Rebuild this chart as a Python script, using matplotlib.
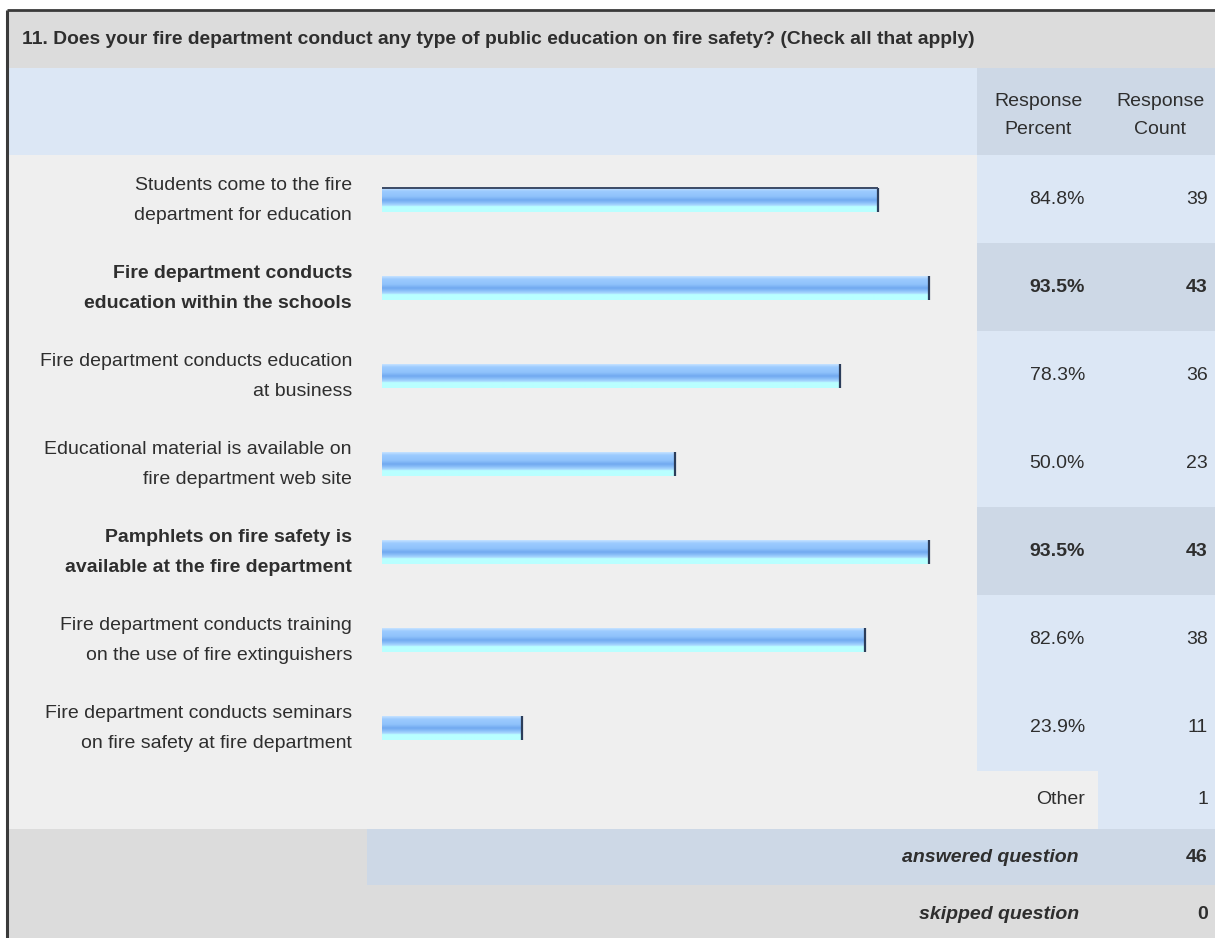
import matplotlib
matplotlib.use("Agg")
import matplotlib.pyplot as plt
import numpy as np
from matplotlib.colors import LinearSegmentedColormap
from matplotlib.patches import Rectangle

plt.rcParams["font.family"] = ["Liberation Sans", "DejaVu Sans"]

title = "11. Does your fire department conduct any type of public education on fire safety? (Check all that apply)"
answers = [
    ("Students come to the fire", "department for education"),
    ("Fire department conducts", "education within the schools"),
    ("Fire department conducts education", "at business"),
    ("Educational material is available on", "fire department web site"),
    ("Pamphlets on fire safety is", "available at the fire department"),
    ("Fire department conducts training", "on the use of fire extinguishers"),
    ("Fire department conducts seminars", "on fire safety at fire department"),
]
percents = [84.8, 93.5, 78.3, 50.0, 93.5, 82.6, 23.9]
counts = [39, 43, 36, 23, 43, 38, 11]
other_count = 1
answered = 46
skipped = 0

W, H = 1215, 938
GRAY = "#dcdcdc"
LIGHT = "#efefef"
BLUE = "#dce7f5"
BLUE_DARK = "#cdd8e6"
TEXT = "#2e2e2e"

fig = plt.figure(figsize=(W / 100, H / 100), dpi=100)
bg = fig.add_axes([0, 0, 1, 1])
bg.set_xlim(0, W)
bg.set_ylim(H, 0)
bg.axis("off")


def box(x0, y0, x1, y1, color):
    bg.add_patch(Rectangle((x0, y0), x1 - x0, y1 - y0, facecolor=color, edgecolor="none"))


left, split, col2, right = 8, 977, 1098, W
top_title, top_head, top_rows = 11, 68, 155
row_h = 88
rows_end = top_rows + row_h * len(percents)
other_end = rows_end + 58
answered_end = other_end + 56

# table background
box(left, top_title, right, top_head, GRAY)
box(left, top_head, split, top_rows, BLUE)
box(split, top_head, right, top_rows, BLUE_DARK)
box(left, top_rows, col2, other_end, LIGHT)
top_val = max(percents)
for i, p in enumerate(percents):
    y0 = top_rows + i * row_h
    box(split, y0, right, y0 + row_h, BLUE_DARK if p == top_val else BLUE)
box(col2, rows_end, right, other_end, BLUE)
box(left, other_end, right, H, GRAY)
box(367, other_end, right, answered_end, BLUE_DARK)

# outer frame (top and left edges)
bg.plot([left - 1, right], [top_title - 1, top_title - 1], color="#3a3a3a", lw=2, solid_capstyle="butt")
bg.plot([left - 1, left - 1], [top_title - 1, H], color="#3a3a3a", lw=2.2, solid_capstyle="butt")

fs = 14
bg.text(22, (top_title + top_head) / 2, title, fontsize=13.9, fontweight="bold",
        color=TEXT, va="center", ha="left")
bg.text(1038, 101, "Response", fontsize=fs, color=TEXT, ha="center", va="center")
bg.text(1038, 129, "Percent", fontsize=fs, color=TEXT, ha="center", va="center")
bg.text(1160, 101, "Response", fontsize=fs, color=TEXT, ha="center", va="center")
bg.text(1160, 129, "Count", fontsize=fs, color=TEXT, ha="center", va="center")

for i, (lab, p, c) in enumerate(zip(answers, percents, counts)):
    yc = top_rows + i * row_h + row_h / 2
    w = "bold" if p == top_val else "normal"
    bg.text(352, yc - 13, lab[0], fontsize=fs, fontweight=w, color=TEXT, ha="right", va="center")
    bg.text(352, yc + 17, lab[1], fontsize=fs, fontweight=w, color=TEXT, ha="right", va="center")
    bg.text(1085, yc, f"{p:.1f}%", fontsize=fs, fontweight=w, color=TEXT, ha="right", va="center")
    bg.text(1208, yc, str(c), fontsize=fs, fontweight=w, color=TEXT, ha="right", va="center")

yo = (rows_end + other_end) / 2
bg.text(1085, yo, "Other", fontsize=fs, color=TEXT, ha="right", va="center")
bg.text(1208, yo, str(other_count), fontsize=fs, color=TEXT, ha="right", va="center")
ya = (other_end + answered_end) / 2
bg.text(1079, ya, "answered question", fontsize=fs, fontweight="bold", style="italic",
        color=TEXT, ha="right", va="center")
bg.text(1208, ya, str(answered), fontsize=fs, fontweight="bold", color=TEXT, ha="right", va="center")
ys = (answered_end + H) / 2 + 3
bg.text(1079, ys, "skipped question", fontsize=fs, fontweight="bold", style="italic",
        color=TEXT, ha="right", va="center")
bg.text(1208, ys, str(skipped), fontsize=fs, fontweight="bold", color=TEXT, ha="right", va="center")

# bar area: 0..100 % mapped onto the answer column
bx0, bx1 = 382, 967
ax = fig.add_axes([bx0 / W, 1 - rows_end / H, (bx1 - bx0) / W, (rows_end - top_rows) / H])
ax.set_xlim(0, 100)
ax.set_ylim(len(percents), 0)
ax.axis("off")
ax.patch.set_alpha(0)

grad = LinearSegmentedColormap.from_list("bar", [
    (0.0, "#c6e2ff"), (0.12, "#9ccbff"), (0.35, "#8fc2fb"), (0.5, "#70a8f0"),
    (0.62, "#8cc0f8"), (0.72, "#a9d9ff"), (0.78, "#b9ffff"), (1.0, "#b9ffff")])
g = np.linspace(0, 1, 64).reshape(-1, 1)
bar_h = 0.27
for i, p in enumerate(percents):
    yc = i + 0.5 + 0.01
    y0, y1 = yc - bar_h / 2, yc + bar_h / 2
    ax.imshow(g, cmap=grad, aspect="auto", extent=(0, p, y1, y0),
              interpolation="bilinear", zorder=2)
    ax.plot([p, p], [y0, y1], color="#2c3d5a", lw=1.6, zorder=3, solid_capstyle="butt")
    if i == 0:
        ax.plot([0, p], [y0, y0], color="#3b4a66", lw=1.4, zorder=3, solid_capstyle="butt")
ax.set_xlim(0, 100)
ax.set_ylim(len(percents), 0)

fig.savefig("out.png", dpi=100)
